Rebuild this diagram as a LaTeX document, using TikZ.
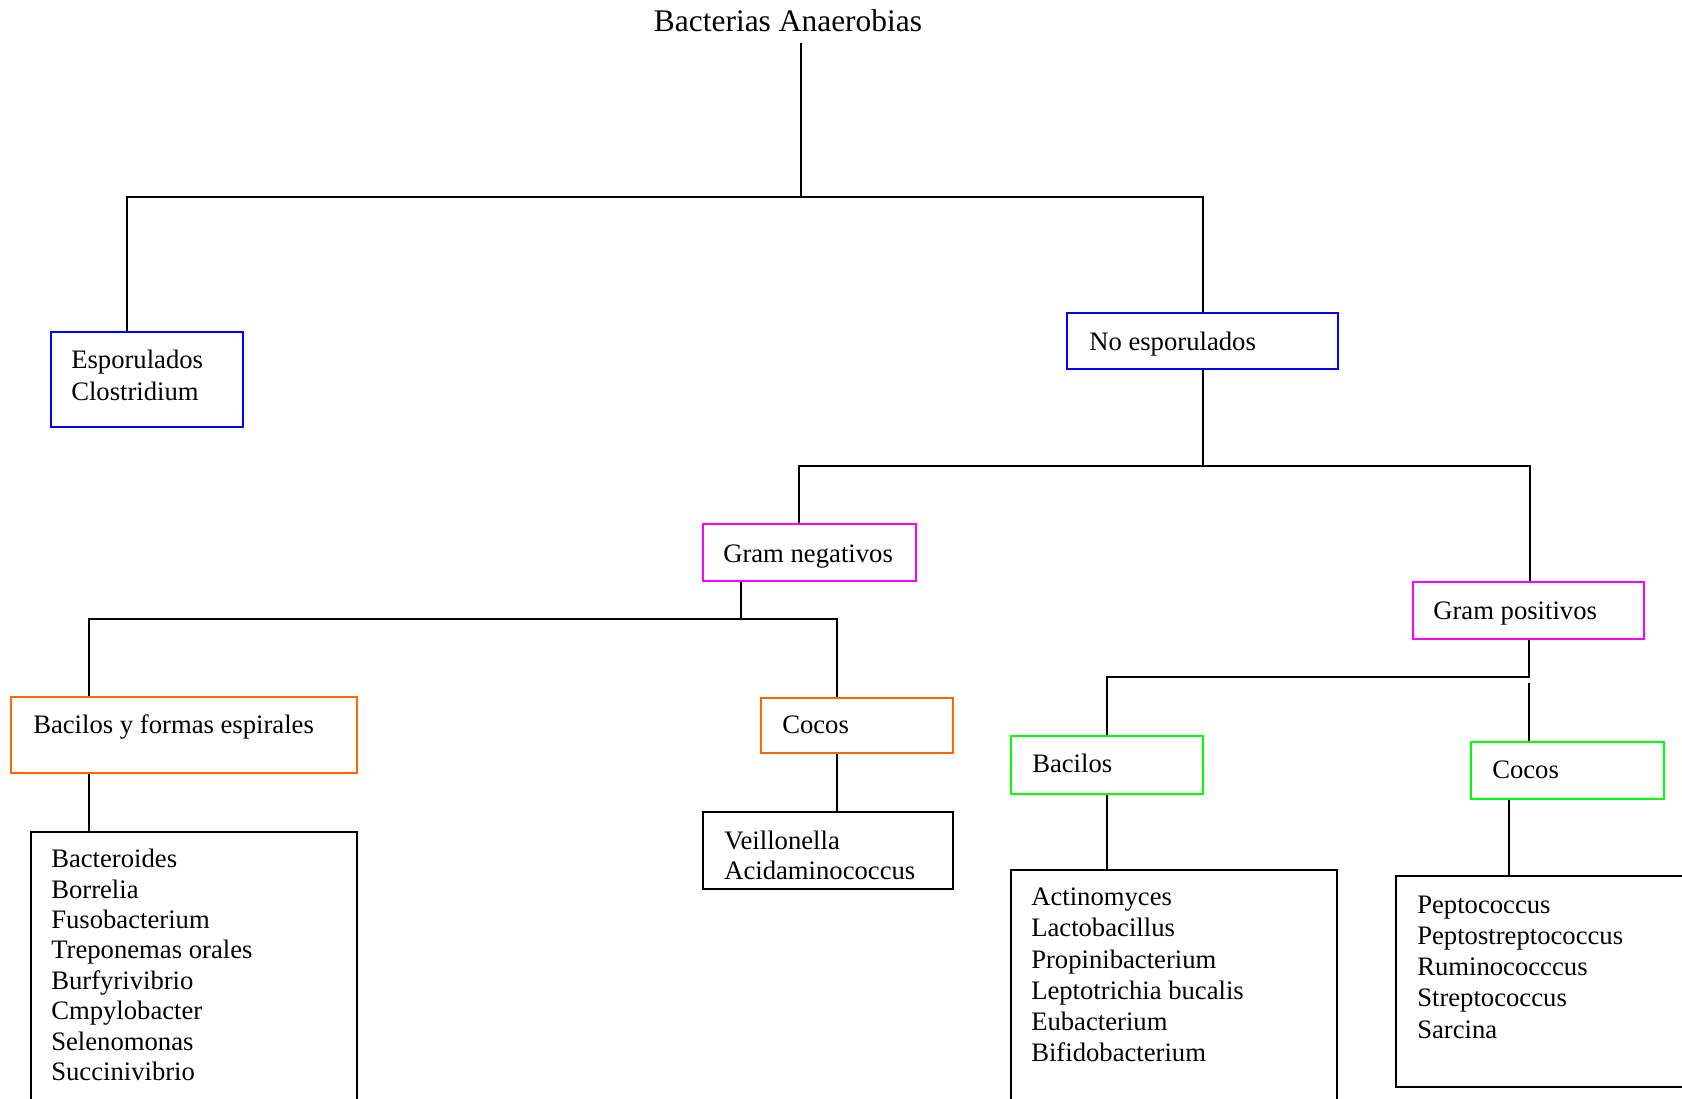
\documentclass[tikz,border=0pt]{standalone}
\usepackage{fontspec}
\setmainfont{Liberation Serif}
\usetikzlibrary{fit}
\definecolor{cblue}{RGB}{0,0,255}
\definecolor{cmag}{RGB}{255,0,255}
\definecolor{corange}{RGB}{255,102,0}
\definecolor{cgreen}{RGB}{0,255,0}
\tikzset{
  box/.style={draw=#1, line width=1.5pt, inner sep=0pt},
  conn/.style={draw=black, line width=1.5pt},
  txt/.style={inner sep=0pt, font=\fontsize{20pt}{23.3pt}\selectfont, align=left},
}
\begin{document}
\begin{tikzpicture}[x=0.75pt, y=-0.75pt]
\useasboundingbox (0,0) rectangle (1682,1099);
\clip (0,0) rectangle (1682,1099);
\fill[white] (0,0) rectangle (1682,1099);

% title
\node[inner sep=0pt, anchor=base, font=\fontsize{23.6pt}{28pt}\selectfont] (title) at (788,32) {Bacterias Anaerobias};

% boxes
\node[box=cblue, fit={(51,332) (243,427)}] (esp) {};
\node[box=cblue, fit={(1067,313) (1338,369)}] (noesp) {};
\node[box=cmag, fit={(703,524) (916,581)}] (gneg) {};
\node[box=cmag, fit={(1413,582) (1644,639)}] (gpos) {};
\node[box=corange, fit={(11,697) (357,773)}] (bacesp) {};
\node[box=corange, fit={(761,698) (953,753)}] (cocneg) {};
\node[box=black, fit={(703,812) (953,889)}] (veil) {};
\node[box=black, fit={(31,832) (357,1120)}] (baclist) {};
\node[box=cgreen, fit={(1011,736) (1203,794)}] (bacpos) {};
\node[box=cgreen, fit={(1471,742) (1664,799)}] (cocpos) {};
\node[box=black, fit={(1011,870) (1337,1120)}] (actlist) {};
\node[box=black, fit={(1396,876) (1710,1087)}] (peplist) {};

% texts
\node[txt, anchor=north west, font=\fontsize{20pt}{24pt}\selectfont] (t-esp) at (71,350) {Esporulados\\Clostridium};
\node[txt, anchor=base west] (t-noesp) at (1089,350) {No esporulados};
\node[txt, anchor=base west] (t-gneg) at (723,562) {Gram negativos};
\node[txt, anchor=base west] (t-gpos) at (1433,619) {Gram positivos};
\node[txt, anchor=base west] (t-bacesp) at (33,733) {Bacilos y formas espirales};
\node[txt, anchor=base west] (t-cocneg) at (782,733) {Cocos};
\node[txt, anchor=north west, font=\fontsize{20pt}{22.5pt}\selectfont] (t-veil) at (724,831) {Veillonella\\Acidaminococcus};
\node[txt, anchor=base west] (t-bacpos) at (1032,772) {Bacilos};
\node[txt, anchor=base west] (t-cocpos) at (1492,778) {Cocos};
\node[txt, anchor=north west, font=\fontsize{20pt}{22.8pt}\selectfont] (t-baclist) at (51,849) {Bacteroides\\Borrelia\\Fusobacterium\\Treponemas orales\\Burfyrivibrio\\Cmpylobacter\\Selenomonas\\Succinivibrio};
\node[txt, anchor=north west] (t-actlist) at (1031,888) {Actinomyces\\Lactobacillus\\Propinibacterium\\Leptotrichia bucalis\\Eubacterium\\Bifidobacterium};
\node[txt, anchor=north west] (t-peplist) at (1417,896) {Peptococcus\\Peptostreptococcus\\Ruminococccus\\Streptococcus\\Sarcina};

% junction coordinates
\coordinate (t0) at (801,43);
\coordinate (j0) at (801,197);
\coordinate (jl) at (127,197);
\coordinate (jr) at (1203,197);
\coordinate (j2) at (1203,466);
\coordinate (jgn) at (799,466);
\coordinate (jgp) at (1530,466);
\coordinate (j3) at (741,619);
\coordinate (jbac) at (89,619);
\coordinate (jcoc) at (837,619);
\coordinate (j4) at (1529,677);
\coordinate (jbg) at (1107,677);
\coordinate (jcg) at (1529,683);
\coordinate (jbl) at (89,0);
\coordinate (jvl) at (837,0);
\coordinate (jal) at (1107,0);
\coordinate (jpl) at (1509,0);

% connectors
\draw[conn] (t0) -- (j0);
\draw[conn] (jl |- esp.north) -- (jl) -- (jr) -- (jr |- noesp.north);
\draw[conn] (j2 |- noesp.south) -- (j2);
\draw[conn] (jgn |- gneg.north) -- (jgn) -- (jgp) -- (jgp |- gpos.north);
\draw[conn] (j3 |- gneg.south) -- (j3);
\draw[conn] (jbac |- bacesp.north) -- (jbac) -- (jcoc) -- (jcoc |- cocneg.north);
\draw[conn] (jbl |- bacesp.south) -- (jbl |- baclist.north);
\draw[conn] (jvl |- cocneg.south) -- (jvl |- veil.north);
\draw[conn] (j4 |- gpos.south) -- (j4) -- (jbg) -- (jbg |- bacpos.north);
\draw[conn] (jcg) -- (jcg |- cocpos.north);
\draw[conn] (jal |- bacpos.south) -- (jal |- actlist.north);
\draw[conn] (jpl |- cocpos.south) -- (jpl |- peplist.north);
\end{tikzpicture}
\end{document}
